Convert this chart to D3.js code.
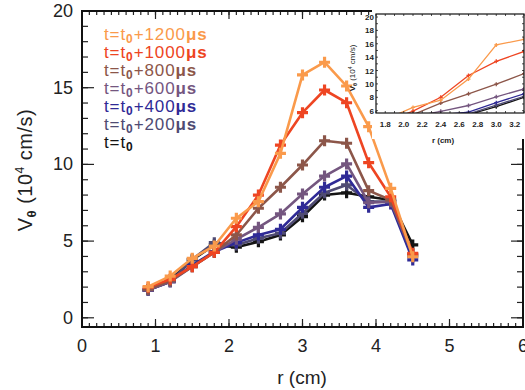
<!DOCTYPE html>
<html>
<head>
<meta charset="utf-8">
<script src="https://cdn.jsdelivr.net/npm/d3@7"></script>
<style>
  body { margin: 0; background: #fff; }
  svg { display: block; font-family: "Liberation Sans", Arial, sans-serif; }
</style>
</head>
<body>
<div id="chart"></div>
<script>
// radius (cm)
var radius = [0.9, 1.2, 1.5, 1.8, 2.1, 2.4, 2.7, 3.0, 3.3, 3.6, 3.9, 4.2, 4.5];

// V_theta (10^4 cm/s), one array per time
var v0    = [1.81, 2.46, 3.77, 4.75, 4.60, 4.96, 5.40, 6.59, 8.00, 8.15, 7.89, 7.68, 4.75];
var v200  = [1.81, 2.35, 3.81, 4.90, 4.75, 5.18, 5.51, 6.81, 8.15, 8.66, 7.57, 7.57, 3.98];
var v400  = [1.81, 2.35, 3.44, 4.31, 4.90, 5.40, 5.77, 7.20, 8.51, 9.24, 7.20, 7.42, 3.77];
var v600  = [1.81, 2.35, 3.33, 4.27, 5.12, 5.90, 6.77, 8.07, 9.24, 10.03, 7.50, 7.57, 4.09];
var v800  = [1.86, 2.42, 3.33, 4.27, 5.40, 7.14, 8.51, 9.96, 11.54, 11.38, 8.29, 7.68, 4.16];
var v1000 = [1.99, 2.51, 3.33, 4.27, 5.94, 8.00, 11.26, 13.37, 14.85, 14.02, 10.11, 7.89, 4.20];
var v1200 = [2.03, 2.72, 3.88, 4.68, 6.49, 7.57, 10.72, 15.83, 16.66, 15.11, 12.46, 8.44, 3.98];

var seriesNames = ["0", "200", "400", "600", "800", "1000", "1200"];
var seriesColors = ["#141414", "#4f4b73", "#2f2a96", "#74567f", "#8c5649", "#ee4522", "#fa9a4b"];

var xTicks = [0, 1, 2, 3, 4, 5, 6];
var yTicks = [0, 5, 10, 15, 20];
var insetXTicks = [1.8, 2.0, 2.2, 2.4, 2.6, 2.8, 3.0, 3.2];
var insetYTicks = [6, 8, 10, 12, 14, 16, 18, 20];

var allSeries = [v0, v200, v400, v600, v800, v1000, v1200];
var series = allSeries.map(function(vals, i) {
  return {
    name: seriesNames[i],
    color: seriesColors[i],
    points: vals.map(function(v, j) { return [radius[j], v]; })
  };
});

var W = 525, H = 390;
var svg = d3.select("#chart").append("svg")
  .attr("width", W)
  .attr("height", H);

// plot frame (window.top is reserved, so m-prefixed names)
var mLeft = 82, mRight = 523, mTop = 11, mBottom = 327;

var x = d3.scaleLinear().domain([0, 6]).range([mLeft, mRight]);
var y = d3.scaleLinear().domain([-0.6, 20]).range([mBottom, mTop]);

// IDL-style ticks pointing inward on all four sides
function innerTicks(g, scale, values, orient, len, pos) {
  values.forEach(function(v) {
    var p = scale(v);
    if (orient == "bottom")
      g.append("line").attr("x1", p).attr("x2", p).attr("y1", pos).attr("y2", pos - len);
    else if (orient == "top")
      g.append("line").attr("x1", p).attr("x2", p).attr("y1", pos).attr("y2", pos + len);
    else if (orient == "left")
      g.append("line").attr("y1", p).attr("y2", p).attr("x1", pos).attr("x2", pos + len);
    else
      g.append("line").attr("y1", p).attr("y2", p).attr("x1", pos).attr("x2", pos - len);
  });
}

var ticksG = svg.append("g").attr("stroke", "#222").attr("stroke-width", 1.2);
var xMinor = d3.range(0, 60.5, 1).map(function(d) { return d / 10; });
var yMinor = d3.range(0, 21, 1);
innerTicks(ticksG, x, xMinor, "bottom", 4, mBottom);
innerTicks(ticksG, x, xMinor, "top", 4, mTop);
innerTicks(ticksG, x, xTicks, "bottom", 8, mBottom);
innerTicks(ticksG, x, xTicks, "top", 8, mTop);
innerTicks(ticksG, y, yMinor, "left", 6, mLeft);
innerTicks(ticksG, y, yMinor, "right", 6, mRight);
innerTicks(ticksG, y, yTicks, "left", 12, mLeft);
innerTicks(ticksG, y, yTicks, "right", 12, mRight);

svg.append("rect")
  .attr("x", mLeft).attr("y", mTop)
  .attr("width", mRight - mLeft).attr("height", mBottom - mTop)
  .attr("fill", "none").attr("stroke", "#111").attr("stroke-width", 2);

// tick labels
svg.append("g").selectAll("text")
  .data(xTicks)
  .enter().append("text")
  .attr("x", function(d) { return x(d); })
  .attr("y", 352)
  .attr("text-anchor", "middle")
  .attr("font-size", 18)
  .attr("fill", "#222")
  .text(function(d) { return d; });

svg.append("g").selectAll("text")
  .data(yTicks)
  .enter().append("text")
  .attr("x", 73)
  .attr("y", function(d) { return y(d) + 6; })
  .attr("text-anchor", "end")
  .attr("font-size", 18)
  .attr("fill", "#222")
  .text(function(d) { return d; });

// axis titles
svg.append("text")
  .attr("x", 302).attr("y", 384)
  .attr("text-anchor", "middle")
  .attr("font-size", 19)
  .attr("fill", "#222")
  .text("r (cm)");

var yt = svg.append("text")
  .attr("transform", "translate(32,170) rotate(-90)")
  .attr("text-anchor", "middle")
  .attr("font-size", 20)
  .attr("letter-spacing", 0.5)
  .attr("fill", "#222");
yt.append("tspan").text("V");
yt.append("tspan").attr("dy", 4).attr("font-size", 13).attr("font-weight", "bold").text("\u03b8");
yt.append("tspan").attr("dy", -4).text(" (10");
yt.append("tspan").attr("dy", -8).attr("font-size", 12).text("4");
yt.append("tspan").attr("dy", 8).text(" cm/s)");

// series
var line = d3.line()
  .x(function(d) { return x(d[0]); })
  .y(function(d) { return y(d[1]); });

var plot = svg.append("g");
series.forEach(function(s) {
  plot.append("path")
    .datum(s.points)
    .attr("fill", "none")
    .attr("stroke", s.color)
    .attr("stroke-width", 2.6)
    .attr("stroke-linejoin", "round")
    .attr("d", line);
  plot.selectAll(null)
    .data(s.points)
    .enter().append("path")
    .attr("transform", function(d) { return "translate(" + x(d[0]) + "," + y(d[1]) + ")"; })
    .attr("d", "M-5.5,0H5.5M0,-5.5V5.5")
    .attr("stroke", s.color)
    .attr("stroke-width", 3.2);
});

// legend, newest on top
var legend = svg.append("g").attr("font-size", 17).attr("letter-spacing", 0.9);
series.slice().reverse().forEach(function(s, i) {
  var t = legend.append("text")
    .attr("x", 104)
    .attr("y", 40 + i * 18)
    .attr("fill", s.color);
  t.append("tspan").text("t=t");
  t.append("tspan").attr("dy", 3).attr("font-size", 12).attr("font-weight", "bold").text("0");
  if (s.name != "0") {
    t.append("tspan").attr("dy", -3).text("+" + s.name);
    t.append("tspan").attr("font-weight", "bold").text("\u03bcs");
  }
});

// inset
var iL = 376, iR = 524, iT = 14, iB = 113;
var ix = d3.scaleLinear().domain([1.7, 3.3]).range([iL, iR]);
var iy = d3.scaleLinear().domain([5.65, 20.45]).range([iB, iT]);

svg.append("rect")
  .attr("x", iL - 4).attr("y", iT - 4)
  .attr("width", iR - iL + 8).attr("height", iB - iT + 30)
  .attr("fill", "#fff");

svg.append("clipPath").attr("id", "insetClip")
  .append("rect")
  .attr("x", iL).attr("y", iT)
  .attr("width", iR - iL).attr("height", iB - iT);

var inset = svg.append("g").attr("clip-path", "url(#insetClip)");
var iline = d3.line()
  .x(function(d) { return ix(d[0]); })
  .y(function(d) { return iy(d[1]); });
series.forEach(function(s) {
  inset.append("path")
    .datum(s.points)
    .attr("fill", "none")
    .attr("stroke", s.color)
    .attr("stroke-width", 1.3)
    .attr("d", iline);
  inset.selectAll(null)
    .data(s.points)
    .enter().append("path")
    .attr("transform", function(d) { return "translate(" + ix(d[0]) + "," + iy(d[1]) + ")"; })
    .attr("d", "M-2,0H2M0,-2V2")
    .attr("stroke", s.color)
    .attr("stroke-width", 1.3);
});

var iTicks = svg.append("g").attr("stroke", "#222").attr("stroke-width", 0.8);
var ixMinor = d3.range(17, 33.5, 1).map(function(d) { return d / 10; });
var iyMinor = d3.range(6, 21, 1);
innerTicks(iTicks, ix, ixMinor, "top", 2, iT);
innerTicks(iTicks, ix, ixMinor, "bottom", 2, iB);
innerTicks(iTicks, iy, iyMinor, "left", 2, iL);
innerTicks(iTicks, iy, iyMinor, "right", 2, iR);

svg.append("rect")
  .attr("x", iL).attr("y", iT)
  .attr("width", iR - iL).attr("height", iB - iT)
  .attr("fill", "none").attr("stroke", "#111").attr("stroke-width", 1.2);

svg.append("g").selectAll("text")
  .data(insetXTicks)
  .enter().append("text")
  .attr("x", function(d) { return ix(d); })
  .attr("y", 127)
  .attr("text-anchor", "middle")
  .attr("font-size", 8)
  .attr("font-weight", "bold")
  .attr("fill", "#222")
  .text(function(d) { return d.toFixed(1); });

svg.append("g").selectAll("text")
  .data(insetYTicks)
  .enter().append("text")
  .attr("x", 374)
  .attr("y", function(d) { return iy(d) + 3; })
  .attr("text-anchor", "end")
  .attr("font-size", 8)
  .attr("font-weight", "bold")
  .attr("fill", "#222")
  .text(function(d) { return d; });

svg.append("text")
  .attr("x", 443).attr("y", 143)
  .attr("text-anchor", "middle")
  .attr("font-size", 8)
  .attr("font-weight", "bold")
  .attr("fill", "#222")
  .text("r (cm)");

var iyt = svg.append("text")
  .attr("transform", "translate(355,68) rotate(-90)")
  .attr("text-anchor", "middle")
  .attr("font-size", 8)
  .attr("fill", "#222");
iyt.append("tspan").attr("font-weight", "bold").text("V");
iyt.append("tspan").attr("dy", 2).attr("font-size", 5.5).attr("font-weight", "bold").text("\u03b8");
iyt.append("tspan").attr("dy", -2).text(" (10");
iyt.append("tspan").attr("dy", -3).attr("font-size", 5).text("4");
iyt.append("tspan").attr("dy", 3).text(" cm/s)");
</script>
</body>
</html>
